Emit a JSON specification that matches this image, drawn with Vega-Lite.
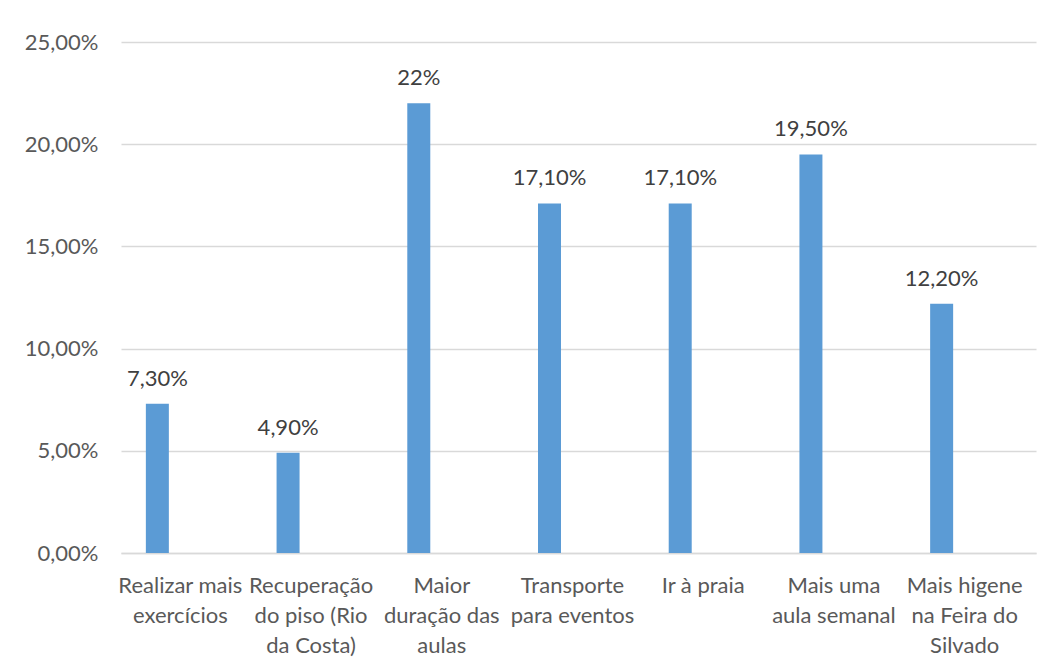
{
  "$schema": "https://vega.github.io/schema/vega-lite/v6.json",
  "autosize": "none",
  "width": 915,
  "height": 511,
  "padding": {"left": 121, "top": 42, "right": 17, "bottom": 113},
  "background": "white",
  "config": {
    "view": {"stroke": null},
    "font": "Lato"
  },
  "data": {
    "values": [
      {"categoria": "Realizar mais|exercícios", "valor": 7.3, "rotulo": "7,30%"},
      {"categoria": "Recuperação|do piso (Rio|da Costa)", "valor": 4.9, "rotulo": "4,90%"},
      {"categoria": "Maior|duração das|aulas", "valor": 22, "rotulo": "22%"},
      {"categoria": "Transporte|para eventos", "valor": 17.1, "rotulo": "17,10%"},
      {"categoria": "Ir à praia", "valor": 17.1, "rotulo": "17,10%"},
      {"categoria": "Mais uma|aula semanal", "valor": 19.5, "rotulo": "19,50%"},
      {"categoria": "Mais higene|na Feira do|Silvado", "valor": 12.2, "rotulo": "12,20%"}
    ]
  },
  "encoding": {
    "x": {
      "field": "categoria",
      "type": "nominal",
      "sort": null,
      "scale": {"paddingInner": 0, "paddingOuter": 0},
      "axis": {
        "title": null,
        "labelAngle": 0,
        "labelExpr": "split(datum.label, '|')",
        "labelFont": "Lato",
        "labelFontSize": 22,
        "labelColor": "#595959",
        "labelLineHeight": 30,
        "labelBaseline": "top",
        "labelPadding": 22,
        "labelOffset": -6,
        "labelLimit": 200,
        "ticks": false,
        "domain": true,
        "domainColor": "#d9d9d9",
        "domainWidth": 1.3,
        "grid": false
      }
    },
    "y": {
      "field": "valor",
      "type": "quantitative",
      "scale": {"domain": [0, 25], "nice": false},
      "axis": {
        "title": null,
        "values": [0, 5, 10, 15, 20, 25],
        "labelExpr": "replace(format(datum.value, '.2f'), '.', ',') + '%'",
        "labelFont": "Lato",
        "labelFontSize": 22,
        "labelColor": "#595959",
        "labelPadding": 23,
        "ticks": false,
        "domain": false,
        "grid": true,
        "gridColor": "#d9d9d9",
        "gridWidth": 1.3
      }
    }
  },
  "layer": [
    {
      "mark": {"type": "bar", "width": 23, "xOffset": -29, "color": "#5b9bd5"}
    },
    {
      "mark": {"type": "text", "xOffset": -29, "dy": -18, "baseline": "alphabetic", "align": "center", "font": "Lato", "fontSize": 22, "color": "#404040"},
      "encoding": {"text": {"field": "rotulo"}}
    }
  ]
}
